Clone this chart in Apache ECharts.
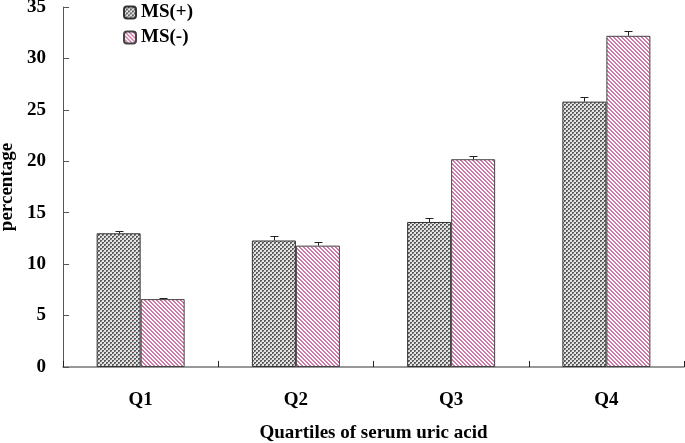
<!DOCTYPE html>
<html>
<head>
<meta charset="utf-8">
<script src="https://cdn.jsdelivr.net/npm/echarts@6/dist/echarts.min.js"></script>
<style>
  html, body { margin: 0; padding: 0; background: #fff; }
  #main { width: 685px; height: 443px; }
</style>
</head>
<body>
<div id="main"></div>
<script>
// data
const quartiles = ['Q1', 'Q2', 'Q3', 'Q4'];
const msPlus = [13.0, 12.3, 14.1, 25.8];
const msMinus = [6.6, 11.8, 20.2, 32.2];
const errPlus = [0.25, 0.4, 0.35, 0.45];
const errMinus = [0.15, 0.4, 0.3, 0.5];
const yTicks = [0, 5, 10, 15, 20, 25, 30, 35];

const font = '"Liberation Serif", "Times New Roman", serif';

// gray cross hatch
function crossPattern() {
  const c = document.createElement('canvas');
  c.width = 4; c.height = 4;
  const ctx = c.getContext('2d');
  ctx.fillStyle = '#e4e4e4';
  ctx.fillRect(0, 0, 4, 4);
  ctx.fillStyle = '#5a5a5a';
  ctx.fillRect(0, 0, 2, 2);
  ctx.fillRect(2, 2, 2, 2);
  ctx.fillStyle = '#a0a0a0';
  ctx.fillRect(1, 1, 1, 1);
  ctx.fillRect(3, 3, 1, 1);
  return c;
}

// pink diagonal stripes
function stripePattern() {
  const c = document.createElement('canvas');
  c.width = 4; c.height = 4;
  const ctx = c.getContext('2d');
  ctx.fillStyle = '#ffffff';
  ctx.fillRect(0, 0, 4, 4);
  ctx.fillStyle = '#cf7aa8';
  for (let i = 0; i < 4; i++) {
    ctx.fillRect(i, i, 1, 1);
    ctx.fillRect((i + 1) % 4, i, 1, 1);
  }
  return c;
}

const plusFill = { image: crossPattern(), repeat: 'repeat' };
const minusFill = { image: stripePattern(), repeat: 'repeat' };

function errorSeries(vals, errs, offset) {
  return {
    type: 'custom',
    silent: true,
    z: 5,
    data: vals.map((v, i) => [i, v, errs[i]]),
    renderItem: function (params, api) {
      const top = api.coord([api.value(0), api.value(1) + api.value(2)]);
      const base = api.coord([api.value(0), api.value(1)]);
      const x = Math.round(top[0] + offset) + 0.5;
      const ty = Math.round(top[1]) + 0.5;
      return {
        type: 'group',
        children: [
          { type: 'line', shape: { x1: x, y1: base[1], x2: x, y2: ty }, style: { stroke: '#222', lineWidth: 1 } },
          { type: 'line', shape: { x1: x - 4, y1: ty, x2: x + 4, y2: ty }, style: { stroke: '#222', lineWidth: 1 } }
        ]
      };
    }
  };
}

const chart = echarts.init(document.getElementById('main'));
chart.setOption({
  animation: false,
  textStyle: { fontFamily: font },
  grid: { left: 63, right: 1, top: 7, bottom: 76, outerBoundsMode: 'none' },
  legend: {
    orient: 'vertical',
    left: 118,
    top: -2,
    itemWidth: 12,
    itemHeight: 12,
    itemGap: 6,
    data: ['MS(+)', 'MS(-)'],
    textStyle: { fontFamily: font, fontWeight: 'bold', fontSize: 19, color: '#000' }
  },
  xAxis: {
    type: 'category',
    data: quartiles,
    name: 'Quartiles of serum uric acid',
    nameLocation: 'middle',
    nameGap: 57,
    nameTextStyle: { fontFamily: font, fontWeight: 'bold', fontSize: 19, color: '#000' },
    axisLine: { lineStyle: { color: '#777', width: 1.5 } },
    axisTick: { show: true, inside: true, length: 6, lineStyle: { color: '#222' } },
    axisLabel: { margin: 24, fontFamily: font, fontWeight: 'bold', fontSize: 19, color: '#000' }
  },
  yAxis: {
    type: 'value',
    min: yTicks[0],
    max: yTicks[yTicks.length - 1],
    interval: 5,
    name: 'percentage',
    nameLocation: 'middle',
    nameGap: 44,
    nameTextStyle: { fontFamily: font, fontWeight: 'bold', fontSize: 19, color: '#000' },
    axisLine: { show: true, lineStyle: { color: '#555', width: 1 } },
    axisTick: { show: true, inside: true, length: 6, lineStyle: { color: '#555' } },
    axisLabel: { margin: 17, fontFamily: font, fontWeight: 'bold', fontSize: 19, color: '#000' },
    splitLine: { show: false }
  },
  series: [
    {
      name: 'MS(+)',
      type: 'bar',
      data: msPlus,
      barWidth: 44,
      barGap: '0%',
      itemStyle: { color: plusFill, borderColor: '#333', borderWidth: 1 }
    },
    {
      name: 'MS(-)',
      type: 'bar',
      data: msMinus,
      barWidth: 44,
      barGap: '0%',
      itemStyle: { color: minusFill, borderColor: '#444', borderWidth: 1 }
    },
    errorSeries(msPlus, errPlus, -22),
    errorSeries(msMinus, errMinus, 22)
  ]
});
</script>
</body>
</html>
